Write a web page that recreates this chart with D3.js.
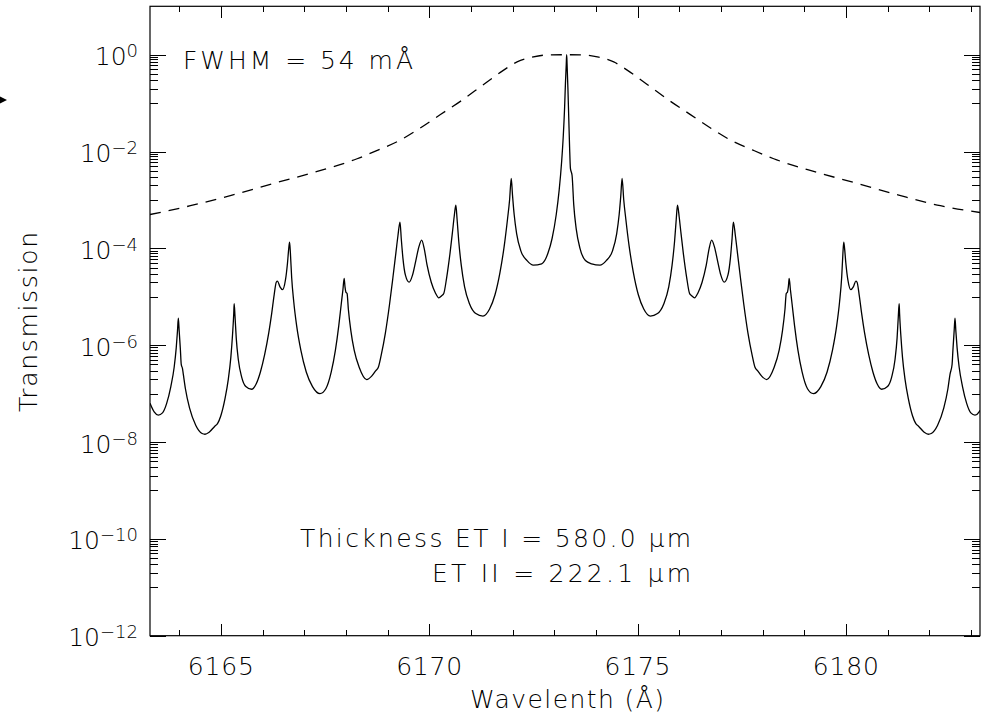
<!DOCTYPE html>
<html><head><meta charset="utf-8">
<script src="https://cdn.jsdelivr.net/npm/d3@7"></script>
<style>
html,body{margin:0;padding:0;background:#fff;}
svg text{font-family:"DejaVu Sans",sans-serif;font-weight:200;fill:#000;}
</style></head><body>
<svg id="chart" width="990" height="724"></svg>
<script>
// ---- data ----
const wavelength = [
 6163.30,6163.40,6163.50,6163.60,6163.70,6163.80,6163.88,6163.93,6163.96,6163.98,6164.00,6164.03,6164.05,6164.08,6164.10,6164.15,6164.25,6164.40,6164.55,6164.62,
 6164.72,6164.85,6164.92,6165.00,6165.10,6165.18,6165.24,6165.28,6165.31,6165.32,6165.34,6165.37,6165.42,6165.50,6165.60,6165.74,6165.85,6165.95,6166.05,6166.15,
 6166.22,6166.28,6166.33,6166.36,6166.42,6166.48,6166.55,6166.60,6166.63,6166.65,6166.67,6166.70,6166.75,6166.82,6166.92,6167.05,6167.20,6167.38,6167.52,6167.65,
 6167.75,6167.83,6167.89,6167.93,6167.96,6167.98,6168.00,6168.03,6168.06,6168.12,6168.20,6168.32,6168.50,6168.62,6168.72,6168.78,6168.85,6168.95,6169.05,6169.13,
 6169.20,6169.25,6169.30,6169.33,6169.37,6169.43,6169.52,6169.60,6169.68,6169.75,6169.82,6169.88,6169.95,6170.05,6170.15,6170.23,6170.30,6170.35,6170.42,6170.50,
 6170.56,6170.60,6170.64,6170.67,6170.71,6170.77,6170.85,6170.97,6171.12,6171.29,6171.45,6171.58,6171.70,6171.80,6171.88,6171.93,6171.97,6172.00,6172.04,6172.10,
 6172.20,6172.35,6172.50,6172.70,6172.85,6172.95,6173.05,6173.12,6173.18,6173.22,6173.25,6173.27,6173.29,6173.30,6173.31,6173.33,6173.35,6173.37,6173.39,6173.41,
 6173.43,6173.47,6173.53,6173.62,6173.75,6173.90,6174.10,6174.25,6174.40,6174.50,6174.56,6174.60,6174.63,6174.67,6174.72,6174.80,6174.90,6175.02,6175.15,6175.31,
 6175.48,6175.63,6175.75,6175.83,6175.89,6175.93,6175.96,6176.00,6176.04,6176.10,6176.18,6176.25,6176.30,6176.37,6176.45,6176.55,6176.65,6176.72,6176.78,6176.85,
 6176.92,6177.00,6177.08,6177.17,6177.23,6177.27,6177.30,6177.35,6177.40,6177.47,6177.55,6177.65,6177.75,6177.82,6177.88,6177.98,6178.10,6178.28,6178.40,6178.48,
 6178.54,6178.57,6178.60,6178.62,6178.64,6178.67,6178.71,6178.77,6178.85,6178.95,6179.08,6179.22,6179.40,6179.55,6179.68,6179.78,6179.85,6179.90,6179.93,6179.95,
 6179.97,6180.00,6180.05,6180.12,6180.18,6180.24,6180.27,6180.32,6180.38,6180.45,6180.55,6180.65,6180.75,6180.86,6181.00,6181.10,6181.18,6181.23,6181.26,6181.28,
 6181.29,6181.32,6181.36,6181.42,6181.50,6181.60,6181.68,6181.75,6181.88,6181.98,6182.05,6182.20,6182.35,6182.45,6182.50,6182.55,6182.57,6182.60,6182.62,6182.64,
 6182.67,6182.72,6182.80,6182.90,6183.00,6183.10,6183.20,6183.22
];
const transmission = [
 6.3e-8,4.2e-8,3.6e-8,4.0e-8,6.3e-8,1.4e-7,3.5e-7,8.9e-7,2.0e-6,3.6e-6,2.0e-6,7.9e-7,4.0e-7,3.3e-7,2.5e-7,1.26e-7,5.0e-8,2.2e-8,1.5e-8,1.45e-8,
 1.6e-8,2.1e-8,2.4e-8,3.5e-8,7.9e-8,2.0e-7,5.6e-7,1.6e-6,4.5e-6,7.2e-6,4.0e-6,1.4e-6,5.0e-7,2.2e-7,1.4e-7,1.23e-7,1.6e-7,2.8e-7,6.3e-7,1.8e-6,
 4.5e-6,1.1e-5,2.0e-5,2.1e-5,1.6e-5,1.4e-5,2.2e-5,5.0e-5,1.0e-4,1.35e-4,7.9e-5,2.5e-5,7.9e-6,2.5e-6,7.9e-7,2.8e-7,1.4e-7,1.0e-7,1.26e-7,2.8e-7,
 7.9e-7,2.5e-6,7.1e-6,1.4e-5,2.4e-5,1.6e-5,1.26e-5,1.17e-5,5.6e-6,2.0e-6,7.9e-7,3.5e-7,1.95e-7,2.3e-7,3.0e-7,3.5e-7,6.3e-7,1.8e-6,7.1e-6,2.5e-5,
 7.9e-5,1.8e-4,3.5e-4,1.6e-4,6.3e-5,2.8e-5,2.0e-5,2.8e-5,5.6e-5,1.05e-4,1.48e-4,1.0e-4,4.5e-5,2.0e-5,1.2e-5,9.5e-6,1.05e-5,1.17e-5,2.5e-5,7.9e-5,
 2.2e-4,4.5e-4,7.8e-4,4.0e-4,1.4e-4,4.5e-5,1.6e-5,7.1e-6,4.5e-6,4.0e-6,5.6e-6,1.1e-5,3.2e-5,1.1e-4,4.0e-4,1.0e-3,2.8e-3,1.26e-3,5.0e-4,2.0e-4,
 8.9e-5,5.6e-5,4.5e-5,4.8e-5,7.9e-5,1.6e-4,5.0e-4,1.6e-3,6.3e-3,2.2e-2,7.9e-2,0.25,0.63,1.0,0.63,0.20,5.0e-2,1.26e-2,4.5e-3,3.8e-3,
 3.2e-3,7.9e-4,2.5e-4,1.0e-4,5.6e-5,4.8e-5,4.5e-5,5.6e-5,8.9e-5,2.0e-4,5.0e-4,1.26e-3,2.8e-3,1.0e-3,4.0e-4,1.1e-4,3.2e-5,1.1e-5,5.6e-6,4.0e-6,
 4.5e-6,7.1e-6,1.6e-5,4.5e-5,1.4e-4,4.0e-4,7.8e-4,4.5e-4,2.2e-4,7.9e-5,2.5e-5,1.17e-5,1.05e-5,9.5e-6,1.2e-5,2.0e-5,4.5e-5,1.0e-4,1.48e-4,1.05e-4,
 5.6e-5,2.8e-5,2.0e-5,2.8e-5,6.3e-5,1.6e-4,3.5e-4,1.8e-4,7.9e-5,2.5e-5,7.1e-6,1.8e-6,6.3e-7,3.5e-7,3.0e-7,2.3e-7,1.95e-7,3.5e-7,7.9e-7,2.0e-6,
 5.6e-6,1.17e-5,1.26e-5,1.6e-5,2.4e-5,1.4e-5,7.1e-6,2.5e-6,7.9e-7,2.8e-7,1.26e-7,1.0e-7,1.4e-7,2.8e-7,7.9e-7,2.5e-6,7.9e-6,2.5e-5,7.9e-5,1.35e-4,
 1.0e-4,5.0e-5,2.2e-5,1.4e-5,1.6e-5,2.1e-5,2.0e-5,1.1e-5,4.5e-6,1.8e-6,6.3e-7,2.8e-7,1.6e-7,1.23e-7,1.4e-7,2.2e-7,5.0e-7,1.4e-6,4.0e-6,7.2e-6,
 4.5e-6,1.6e-6,5.6e-7,2.0e-7,7.9e-8,3.5e-8,2.4e-8,2.1e-8,1.6e-8,1.45e-8,1.5e-8,2.2e-8,5.0e-8,1.26e-7,2.5e-7,4.0e-7,7.9e-7,2.0e-6,3.6e-6,2.0e-6,
 8.9e-7,3.5e-7,1.4e-7,6.3e-8,4.0e-8,3.6e-8,4.2e-8,4.5e-8
];
const prefilterWavelength = [6163.30,6164.27,6165.27,6166.27,6167.27,6168.27,6168.77,6169.27,6169.77,6170.27,6170.77,6171.27,6171.77,6172.11,6172.47,6172.77,6173.27,
 6173.77,6174.07,6174.43,6174.77,6175.27,6175.77,6176.27,6176.77,6177.27,6177.77,6178.27,6179.27,6180.27,6181.27,6182.27,6183.22];
const prefilterTransmission = [5.0e-4,7.6e-4,1.26e-3,2.2e-3,3.8e-3,7.1e-3,1.07e-2,1.66e-2,3.0e-2,5.8e-2,0.112,0.23,0.47,0.71,0.89,0.98,1.0,
 0.98,0.89,0.71,0.47,0.23,0.112,5.8e-2,3.0e-2,1.66e-2,1.07e-2,7.1e-3,3.8e-3,2.2e-3,1.26e-3,7.6e-4,5.5e-4];
const xMajorTicks = [6165, 6170, 6175, 6180];
const xMinorTicks = [6164,6166,6167,6168,6169,6171,6172,6173,6174,6176,6177,6178,6179,6181,6182,6183];
const yLabelExponents = [0, -2, -4, -6, -8, -10, -12];
const fwhmText = "FWHM = 54 mÅ";
const thicknessLines = ["Thickness ET I = 580.0 \u03bcm", "ET II = 222.1 \u03bcm"];
const xTitle = "Wavelenth (Å)";
const yTitle = "Transmission";

// ---- layout ----
const L = 150, R = 980, T = 6.3, B = 635.7;
const svg = d3.select("#chart");
const x = d3.scaleLinear().domain([6163.3, 6183.22]).range([L, R]);
const y = d3.scaleLog().domain([1e-12, 10]).range([B, T]);

svg.append("rect").attr("width", 990).attr("height", 724).attr("fill", "#fff");

svg.append("defs").append("clipPath").attr("id", "clip")
  .append("rect").attr("x", L).attr("y", T).attr("width", R - L).attr("height", B - T);

const yMajor = yLabelExponents.map(e => Math.pow(10, e));
const yMinor = [];
yLabelExponents.forEach(e => { for (let m = 1; m <= 9; m++) { const v = m * Math.pow(10, e - 1); if (v >= 1e-12) yMinor.push(v); } });

function tickStyle(g) {
  g.select(".domain").remove();
  g.selectAll("line").attr("stroke", "#000").attr("stroke-width", 1).attr("shape-rendering", "crispEdges");
  g.selectAll("text").remove();
}
// bottom / top
svg.append("g").attr("transform", `translate(0,${B})`).call(d3.axisBottom(x).tickValues(xMajorTicks).tickSizeInner(-12).tickSizeOuter(0)).call(tickStyle);
svg.append("g").attr("transform", `translate(0,${B})`).call(d3.axisBottom(x).tickValues(xMinorTicks).tickSizeInner(-6).tickSizeOuter(0)).call(tickStyle);
svg.append("g").attr("transform", `translate(0,${T})`).call(d3.axisTop(x).tickValues(xMajorTicks).tickSizeInner(-12).tickSizeOuter(0)).call(tickStyle);
svg.append("g").attr("transform", `translate(0,${T})`).call(d3.axisTop(x).tickValues(xMinorTicks).tickSizeInner(-6).tickSizeOuter(0)).call(tickStyle);
// left / right
svg.append("g").attr("transform", `translate(${L},0)`).call(d3.axisLeft(y).tickValues(yMajor).tickSizeInner(-16).tickSizeOuter(0)).call(tickStyle);
svg.append("g").attr("transform", `translate(${L},0)`).call(d3.axisLeft(y).tickValues(yMinor).tickSizeInner(-8).tickSizeOuter(0)).call(tickStyle);
svg.append("g").attr("transform", `translate(${R},0)`).call(d3.axisRight(y).tickValues(yMajor).tickSizeInner(-16).tickSizeOuter(0)).call(tickStyle);
svg.append("g").attr("transform", `translate(${R},0)`).call(d3.axisRight(y).tickValues(yMinor).tickSizeInner(-8).tickSizeOuter(0)).call(tickStyle);

// frame
svg.append("rect").attr("x", L).attr("y", T).attr("width", R - L).attr("height", B - T)
  .attr("fill", "none").attr("stroke", "#000").attr("stroke-width", 1.2);

// x tick labels
svg.append("g").selectAll("text").data(xMajorTicks).join("text")
  .attr("x", d => x(d)).attr("y", 675).attr("text-anchor", "middle").attr("font-size", 25)
  .attr("textLength", 66).attr("lengthAdjust", "spacing")
  .text(d => d);

// y tick labels
const yl = svg.append("g").selectAll("text").data(yLabelExponents).join("text")
  .attr("x", 138).attr("y", d => y(Math.pow(10, d)) + 10.5).attr("text-anchor", "end").attr("font-size", 25);
yl.append("tspan").text("10");
yl.append("tspan").attr("dy", -8).attr("font-size", 18).text(d => d === 0 ? "0" : "\u2212" + Math.abs(d));

// titles
svg.append("text").attr("x", (L + R) / 2 + 2).attr("y", 708).attr("text-anchor", "middle").attr("font-size", 25)
  .attr("textLength", 194).attr("lengthAdjust", "spacing").text(xTitle);
svg.append("text").attr("transform", "translate(37,322) rotate(-90)").attr("text-anchor", "middle").attr("font-size", 25)
  .attr("textLength", 180).attr("lengthAdjust", "spacing").text(yTitle);

// annotations
svg.append("text").attr("x", 183).attr("y", 69).attr("font-size", 25)
  .attr("textLength", 230).attr("lengthAdjust", "spacing").text(fwhmText);
const thickX = [300, 432], thickY = [547, 582], thickW = [391, 259];
thicknessLines.forEach((ln, i) => {
  svg.append("text").attr("x", thickX[i]).attr("y", thickY[i]).attr("font-size", 25)
    .attr("textLength", thickW[i]).attr("lengthAdjust", "spacing").text(ln);
});

// curves
const plot = svg.append("g").attr("clip-path", "url(#clip)");
const line = d3.line().x(d => x(d[0])).y(d => y(d[1])).curve(d3.curveMonotoneX);
plot.append("path").datum(prefilterWavelength.map((w, i) => [w, prefilterTransmission[i]]))
  .attr("d", line).attr("fill", "none").attr("stroke", "#000").attr("stroke-width", 1.3)
  .attr("stroke-dasharray", "11,8");
plot.append("path").datum(wavelength.map((w, i) => [w, transmission[i]]))
  .attr("d", line).attr("fill", "none").attr("stroke", "#000").attr("stroke-width", 1.3)
  .attr("stroke-linejoin", "round");

// small pointer mark at left edge of the page
svg.append("path").attr("d", "M0,96.5L7,100L0,103.5Z").attr("fill", "#000");
</script>
</body></html>
